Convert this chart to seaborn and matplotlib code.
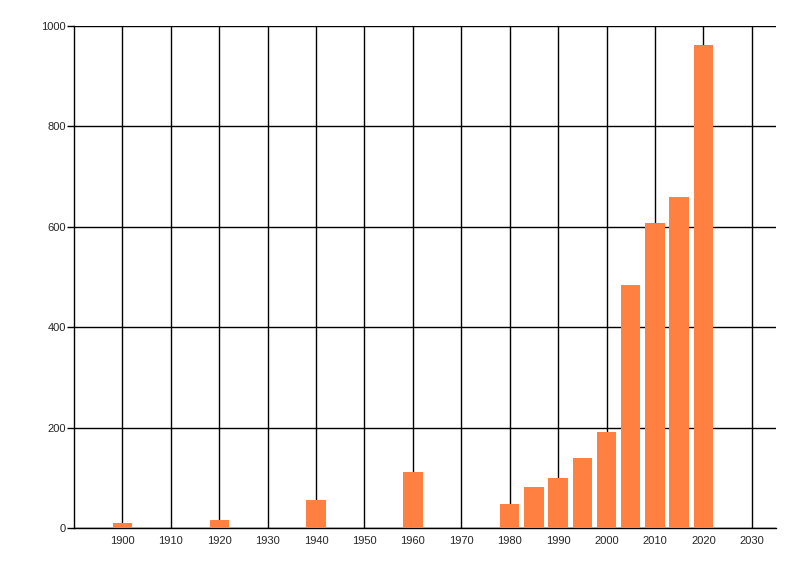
import matplotlib
matplotlib.use("Agg")
import matplotlib.pyplot as plt
import seaborn as sns

# values
years = [1900, 1920, 1940, 1960, 1980, 1985, 1990, 1995, 2000, 2005, 2010, 2015, 2020]
counts = [10, 16, 56, 112, 48, 82, 100, 140, 192, 485, 607, 659, 962]
x_ticks = list(range(1900, 2031, 10))
y_ticks = [0, 200, 400, 600, 800, 1000]

sns.set_style("white")
plt.rcParams['font.family'] = ['Liberation Sans', 'DejaVu Sans']

fig = plt.figure(figsize=(8, 5.76), dpi=100)
ax = fig.add_axes([0.0925, 0.0833, 0.8775, 0.8717])

sns.barplot(x=years, y=counts, native_scale=True, width=0.8,
            color="#FF8040", saturation=1, linewidth=0, edgecolor="none",
            ax=ax, zorder=3)

ax.set_xlim(1890, 2035)
ax.set_ylim(0, 1000)
ax.set_xticks(x_ticks)
ax.set_xticklabels([str(t) for t in x_ticks])
ax.set_yticks(y_ticks)
ax.set_yticklabels([str(t) for t in y_ticks])

ax.grid(True, color="black", linewidth=1.0, zorder=0)
ax.set_axisbelow(True)
ax.set_xlabel("")
ax.set_ylabel("")

for side in ["top", "right"]:
    ax.spines[side].set_visible(False)
for side in ["left", "bottom"]:
    ax.spines[side].set_color("black")
    ax.spines[side].set_linewidth(1.0)

ax.tick_params(axis="y", left=True, length=5, width=1.0, color="black",
               labelsize=8, pad=1)
ax.tick_params(axis="x", bottom=False, length=0, labelsize=8, pad=6)

fig.savefig("out.png", dpi=100)
